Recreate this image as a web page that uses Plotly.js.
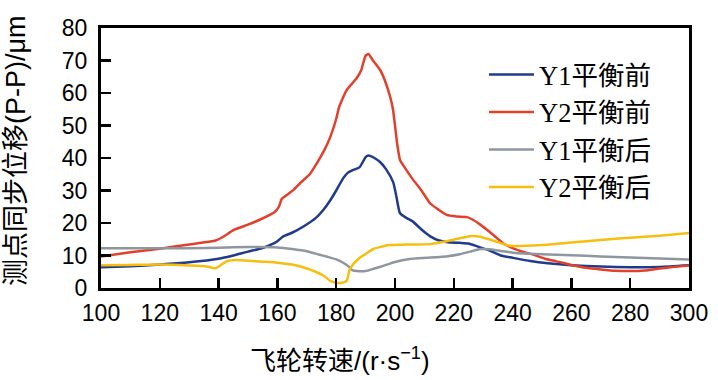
<!DOCTYPE html>
<html>
<head>
<meta charset="utf-8">
<script src="https://cdn.plot.ly/plotly-3.0.1.min.js"></script>
<style>html,body{margin:0;padding:0;background:#fff;}#chart{width:718px;height:380px;}</style>
</head>
<body>
<div id="chart"></div>
<script>
// Series names
const seriesNames = ['Y1平衡前', 'Y2平衡前', 'Y1平衡后', 'Y2平衡后'];

// Y1 before balancing (blue)
const y1BeforeX = [100,110,120,130,140,145,150,155,158,160,162,165,169,173,175.6,178,180,182.4,184,186,188,190,191,193,195,197,199.4,200.5,201.7,204,206,209,212,215,218,222,225,228,232,236,240,246,252,260,270,280,290,300];
const y1BeforeY = [6.4,6.7,7.2,7.9,9,10,11.2,12.3,13.4,14.4,15.9,17,19,21.5,24,27,30,33.8,35.5,36.4,37.2,40.3,40.8,40,38.7,36.5,32.5,28,23,21.5,20.5,18,15.9,14.6,14.1,13.9,13.7,12.8,11.6,10,9.3,8.3,7.6,7,6.6,6.4,6.5,7.0];

// Y2 before balancing (red)
const y2BeforeX = [100,110,120,130,139,142,145,150,154,159,160.5,161.5,163,165.5,168,171,173.5,176,178,180,181,183.5,185.5,187,188.5,190,191,192.5,195,196.5,198.3,199.3,200,200.8,201.7,203,206,209,212,215,217.6,221,224.5,226.5,229,232,234.5,237,240,244,247,251,255,260,265,270,275,280,285,290,295,300];
const y2BeforeY = [9.7,11,12.1,13.4,14.6,16,17.8,19.5,21,23.3,25,27.5,28.5,30.2,32.5,35,38.5,42.5,46.5,52,55.7,60.8,63,64.6,67,71.5,72,70,67,64,59,55,50,44,39.4,37.5,33.5,30,26,24,22.5,22,21.8,21,19.5,17.4,15.5,13.6,12.3,11,10.3,9,8.2,7.1,6.2,5.7,5.3,5.2,5.4,6,6.5,6.9];

// Y1 after balancing (gray)
const y1AfterX = [100,110,120,130,140,150,160,165,170,174,177,180,182.5,184,185.5,187,190,193,196,200,205,211,218,222,226,229,232,236,241,250,260,270,280,290,300];
const y1AfterY = [12.2,12.2,12.2,12.2,12.4,12.6,12.5,12,11.3,10.3,9.6,8.8,7.7,6.8,5.5,5.2,5.2,6,6.8,8,8.9,9.3,9.8,10.4,11.3,12,11.9,11.4,10.8,10.4,10.1,9.7,9.4,9.1,8.8];

// Y2 after balancing (yellow)
const y2AfterX = [100,110,120,130,136,139,141,143,146,150,155,160,165,170,173,176,178,180,182,183.6,184.5,185.5,188,190,192.6,195,198,202,206,212,217,221,226,229,232,236,239,245,252,260,270,280,290,300];
const y2AfterY = [7,7.1,7.2,6.9,6.6,6.1,7.2,8.3,8.6,8.4,8.1,7.8,7.2,6,5,3.6,2.2,1.6,1.6,2.2,5.5,7,9.3,10.5,12,12.6,13.2,13.3,13.4,13.5,14.3,15.1,16,15.8,15,13.8,13,13,13.3,14,14.8,15.5,16.1,16.9];

// Axis ticks
const xTicks = [100,120,140,160,180,200,220,240,260,280,300];
const yTicks = [0,10,20,30,40,50,60,70,80];

const colors = ['#1f3b8c', '#e2402b', '#8e969f', '#f6bf0f'];
const xs = [y1BeforeX, y2BeforeX, y1AfterX, y2AfterX];
const ys = [y1BeforeY, y2BeforeY, y1AfterY, y2AfterY];

const traces = seriesNames.map((n, i) => ({
  x: xs[i], y: ys[i], name: n, type: 'scatter', mode: 'lines',
  line: {color: colors[i], width: 2.5, shape: 'spline', smoothing: 0.5}
}));

const tickFont = {family: 'Liberation Sans, Arial, sans-serif', size: 23, color: '#000'};
const layout = {
  width: 718, height: 380,
  margin: {l: 101, r: 29, t: 28, b: 92},
  paper_bgcolor: '#fff', plot_bgcolor: '#fff',
  showlegend: true,
  legend: {
    x: (484 - 101) / 588, y: 0.912, xanchor: 'left', yanchor: 'top',
    bgcolor: 'rgba(0,0,0,0)', borderwidth: 0,
    itemwidth: 45,
    font: {family: 'Liberation Serif, Times New Roman, Noto Sans CJK SC, serif', size: 26.5, color: '#000'},
    tracegroupgap: 0
  },
  xaxis: {
    range: [100, 300], tickvals: xTicks, ticktext: xTicks.map(String),
    ticks: 'inside', ticklen: 10, tickwidth: 2.5, tickcolor: '#000',
    showline: true, linecolor: '#000', linewidth: 3, mirror: true,
    showgrid: false, zeroline: false, tickfont: tickFont, ticklabelstandoff: 2
  },
  yaxis: {
    range: [0, 80], tickvals: yTicks, ticktext: yTicks.map(String),
    ticks: 'inside', ticklen: 10, tickwidth: 2.5, tickcolor: '#000',
    showline: true, linecolor: '#000', linewidth: 3, mirror: true,
    showgrid: false, zeroline: false, tickfont: tickFont, ticklabelstandoff: 6
  },
  annotations: [
    {text: '飞轮转速/(r·s<sup>−1</sup>)', xref: 'paper', yref: 'paper',
     x: (340 - 101) / 588, y: -0.275, xanchor: 'center', yanchor: 'middle', showarrow: false,
     font: {family: 'Liberation Sans, Noto Sans CJK SC, sans-serif', size: 26, color: '#000'}},
    {text: '测点同步位移(P-P)/μm', xref: 'paper', yref: 'paper',
     x: (16 - 101) / 588, y: (288 - 151) / 260, xanchor: 'center', yanchor: 'middle', textangle: -90, showarrow: false,
     font: {family: 'Liberation Sans, Noto Sans CJK SC, sans-serif', size: 27, color: '#000'}}
  ]
};

Plotly.newPlot('chart', traces, layout, {staticPlot: true, displayModeBar: false});
</script>
</body>
</html>
